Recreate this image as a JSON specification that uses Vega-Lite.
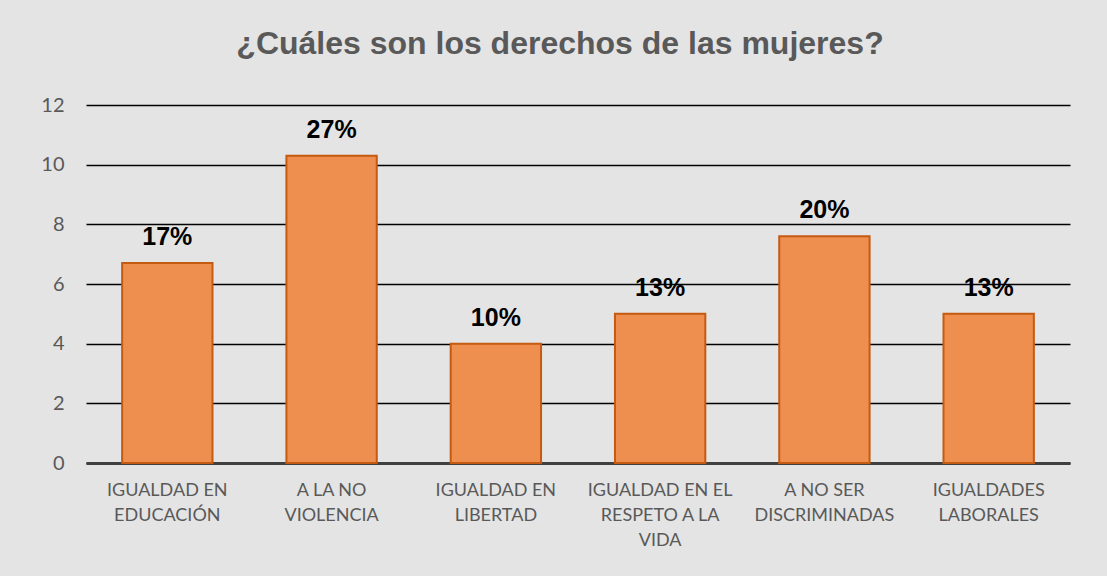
{
  "$schema": "https://vega.github.io/schema/vega-lite/v6.json",
  "width": 984,
  "height": 358,
  "autosize": "none",
  "padding": {"left": 86, "top": 105, "right": 37, "bottom": 113},
  "background": "#e4e4e4",
  "title": {
    "text": "¿Cuáles son los derechos de las mujeres?",
    "font": "Liberation Sans",
    "fontSize": 32,
    "fontWeight": "bold",
    "color": "#595959",
    "offset": 34,
    "dx": -18
  },
  "config": {"view": {"stroke": null}},
  "data": {
    "values": [
      {"categoria": "IGUALDAD EN|EDUCACIÓN", "valor": 6.7, "etiqueta": "17%"},
      {"categoria": "A LA NO|VIOLENCIA", "valor": 10.3, "etiqueta": "27%"},
      {"categoria": "IGUALDAD EN|LIBERTAD", "valor": 4.0, "etiqueta": "10%"},
      {"categoria": "IGUALDAD EN EL|RESPETO A LA|VIDA", "valor": 5.0, "etiqueta": "13%"},
      {"categoria": "A NO SER|DISCRIMINADAS", "valor": 7.6, "etiqueta": "20%"},
      {"categoria": "IGUALDADES|LABORALES", "valor": 5.0, "etiqueta": "13%"}
    ]
  },
  "encoding": {
    "x": {
      "field": "categoria",
      "type": "nominal",
      "sort": null,
      "scale": {"paddingInner": 0.45, "paddingOuter": 0.22},
      "axis": {
        "title": null,
        "labelAngle": 0,
        "labelExpr": "split(datum.label, '|')",
        "labelFont": "Lato",
        "labelFontSize": 18,
        "labelColor": "#595959",
        "labelLineHeight": 25,
        "labelBaseline": "top",
        "labelPadding": 18,
        "ticks": false,
        "domain": true,
        "domainColor": "#404040",
        "domainWidth": 3
      }
    },
    "y": {
      "field": "valor",
      "type": "quantitative",
      "scale": {"domain": [0, 12]},
      "axis": {
        "title": null,
        "values": [0, 2, 4, 6, 8, 10, 12],
        "grid": true,
        "gridColor": "#000000",
        "gridWidth": 1.5,
        "ticks": false,
        "domain": false,
        "labelFont": "Lato",
        "labelFontSize": 20,
        "labelColor": "#595959",
        "labelPadding": 22
      }
    }
  },
  "layer": [
    {
      "mark": {"type": "bar", "fill": "#EE8E4F", "stroke": "#C55A11", "strokeWidth": 2}
    },
    {
      "mark": {
        "type": "text",
        "baseline": "alphabetic",
        "dy": -18,
        "font": "Liberation Sans",
        "fontSize": 25,
        "fontWeight": "bold",
        "color": "#000000"
      },
      "encoding": {"text": {"field": "etiqueta"}}
    }
  ]
}
